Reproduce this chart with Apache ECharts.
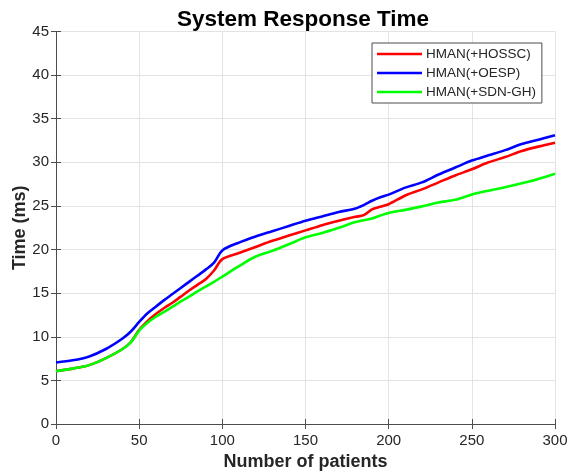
<!DOCTYPE html>
<html>
<head>
<meta charset="utf-8">
<script src="https://cdn.jsdelivr.net/npm/echarts@6/dist/echarts.min.js"></script>
<style>
  html, body { margin: 0; padding: 0; background: #fff; }
  #chart { width: 568px; height: 474px; }
</style>
</head>
<body>
<div id="chart"></div>
<script>
// Number of patients at which each response time was sampled
const patients = [0, 10, 20, 30, 40, 45, 50, 55, 60, 65, 70, 75, 80, 85, 90, 95, 100,
  110, 120, 130, 140, 150, 160, 170, 180, 185, 190, 195, 200,
  210, 220, 230, 240, 250, 260, 270, 280, 290, 300];

// Response time (ms) per scheme
const hossc = [6.05, 6.35, 6.75, 7.55, 8.6, 9.4, 10.8, 11.8, 12.6, 13.3, 13.9, 14.6, 15.3, 15.95, 16.6, 17.6, 18.9,
  19.6, 20.3, 21.0, 21.6, 22.2, 22.8, 23.3, 23.75, 23.95, 24.6, 24.9, 25.2,
  26.2, 26.9, 27.7, 28.5, 29.2, 30.0, 30.6, 31.3, 31.8, 32.25];
const oesp = [7.05, 7.3, 7.75, 8.6, 9.8, 10.6, 11.7, 12.7, 13.45, 14.2, 14.9, 15.6, 16.3, 17.0, 17.7, 18.5, 19.9,
  20.8, 21.5, 22.1, 22.7, 23.3, 23.8, 24.3, 24.7, 25.1, 25.6, 26.0, 26.3,
  27.1, 27.7, 28.6, 29.4, 30.2, 30.8, 31.4, 32.1, 32.6, 33.1];
const sdnGh = [6.05, 6.35, 6.75, 7.55, 8.6, 9.35, 10.7, 11.6, 12.3, 12.85, 13.45, 14.05, 14.6, 15.2, 15.75, 16.3, 16.9,
  18.1, 19.2, 19.85, 20.6, 21.4, 21.9, 22.5, 23.15, 23.35, 23.55, 23.9, 24.2,
  24.55, 24.95, 25.4, 25.7, 26.3, 26.75, 27.15, 27.6, 28.1, 28.7];

const seriesNames = ['HMAN(+HOSSC)', 'HMAN(+OESP)', 'HMAN(+SDN-GH)'];
const seriesColors = ['#ff0000', '#0000ff', '#00ff00'];
const seriesValues = [hossc, oesp, sdnGh];

const FONT = '"Liberation Sans", Arial, Helvetica, sans-serif';
const AXIS_COLOR = '#4d4d4d';
const TEXT_COLOR = '#262626';

const pairs = vals => patients.map((p, i) => [p, vals[i]]);

const chart = echarts.init(document.getElementById('chart'), null, { renderer: 'canvas' });

// top/right axes only close the box and carry inward ticks
const boxAxis = {
  axisLine: { show: true, lineStyle: { color: AXIS_COLOR, width: 1 } },
  axisTick: { show: true, inside: true, length: 5, lineStyle: { color: AXIS_COLOR } },
  axisLabel: { show: false },
  splitLine: { show: false }
};

chart.setOption({
  animation: false,
  backgroundColor: '#ffffff',
  title: {
    text: 'System Response Time',
    left: 298,
    top: 3,
    textAlign: 'center',
    textStyle: { fontFamily: FONT, fontSize: 22.5, fontWeight: 'bold', color: '#000' }
  },
  grid: { left: 56, right: 13, top: 31.5, bottom: 50, outerBoundsMode: 'none', containLabel: false },
  legend: {
    orient: 'vertical',
    left: 372,
    top: 43,
    padding: [4, 6, 4, 5],
    itemGap: 5,
    itemWidth: 45,
    itemHeight: 2.5,
    icon: 'rect',
    backgroundColor: '#ffffff',
    borderColor: '#4d4d4d',
    borderWidth: 1,
    borderRadius: 0,
    textStyle: { fontFamily: FONT, fontSize: 13.5, color: TEXT_COLOR, padding: [0, 0, 0, -1] },
    data: seriesNames
  },
  xAxis: [
    {
      type: 'value', min: 0, max: 300, interval: 50,
      name: 'Number of patients', nameLocation: 'middle', nameGap: 29, nameMoveOverlap: false,
      nameTextStyle: { fontFamily: FONT, fontSize: 18, fontWeight: 'bold', color: TEXT_COLOR },
      axisLine: { show: true, lineStyle: { color: AXIS_COLOR, width: 1 } },
      axisTick: { show: true, inside: true, length: 5, lineStyle: { color: AXIS_COLOR } },
      axisLabel: { fontFamily: FONT, fontSize: 15, color: TEXT_COLOR, margin: 9 },
      splitLine: { show: true, lineStyle: { color: '#e3e3e3', width: 1 } }
    },
    Object.assign({ type: 'value', position: 'top', min: 0, max: 300, interval: 50 }, boxAxis)
  ],
  yAxis: [
    {
      type: 'value', min: 0, max: 45, interval: 5,
      name: 'Time (ms)', nameLocation: 'middle', nameGap: 27, nameMoveOverlap: false,
      nameTextStyle: { fontFamily: FONT, fontSize: 18, fontWeight: 'bold', color: TEXT_COLOR },
      axisLine: { show: true, lineStyle: { color: AXIS_COLOR, width: 1 } },
      axisTick: { show: true, inside: true, length: 5, lineStyle: { color: AXIS_COLOR } },
      axisLabel: { fontFamily: FONT, fontSize: 15, color: TEXT_COLOR, margin: 7 },
      splitLine: { show: true, lineStyle: { color: '#e3e3e3', width: 1 } }
    },
    Object.assign({ type: 'value', position: 'right', min: 0, max: 45, interval: 5 }, boxAxis)
  ],
  series: seriesNames.map((name, k) => ({
    name,
    type: 'line',
    data: pairs(seriesValues[k]),
    showSymbol: false,
    symbol: 'none',
    smooth: 0.3,
    lineStyle: { color: seriesColors[k], width: 2.6 },
    itemStyle: { color: seriesColors[k] },
    z: 2 + k
  }))
});
</script>
</body>
</html>
